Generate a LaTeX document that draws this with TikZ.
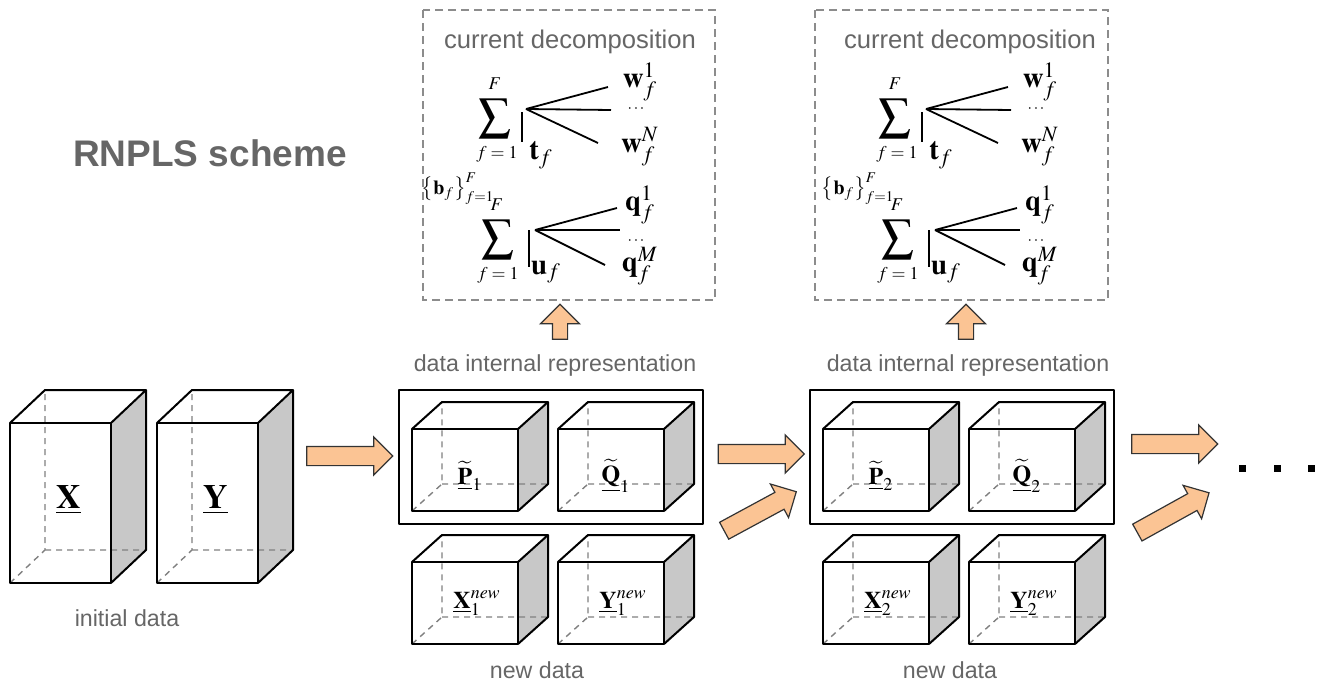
\documentclass[tikz,border=0pt]{standalone}
\usepackage{mathptmx}
\usepackage[no-math]{fontspec}
\usepackage{tikz}
\usetikzlibrary{shapes.arrows,positioning}

\newfontfamily\labelfont{Liberation Sans}
\definecolor{labelgray}{HTML}{666666}
\definecolor{sidegray}{HTML}{C8C8C8}
\definecolor{arrowfill}{HTML}{FBC494}

\tikzset{
  hidden/.style={draw=gray, line width=0.7pt, dash pattern=on 3pt off 2.5pt},
  edge/.style={line width=1pt, line join=round},
  caption/.style={text=labelgray, font=\labelfont\fontsize{11.6}{14}\selectfont},
  dashbox/.style={draw=gray!90, line width=0.7pt, dash pattern=on 4pt off 2.5pt},
  decomp/.style={inner sep=1pt, font=\Large},
  bigsum/.style={inner sep=0pt, font=\fontsize{16}{19}\selectfont},
  limit/.style={inner sep=0pt, font=\small},
  fan/.style={line width=0.9pt},
  fatarrow/.style={single arrow, draw=black!80, fill=arrowfill, line width=0.6pt,
    inner xsep=0pt, inner ysep=4.5pt, minimum height=43pt,
    single arrow head extend=4.75pt, single arrow head indent=0pt},
  uparrow/.style={fatarrow, rotate=90, inner ysep=3.5pt, minimum height=17.5pt,
    single arrow head extend=6pt}
}

% box: name, x, y, width, height, depth x, depth y
\newcommand{\tensorbox}[7]{%
  \begin{scope}[shift={(#2,#3)}]
    \fill[sidegray] (#4,0) -- (#4+#6,-#7) -- (#4+#6,#5-#7) -- (#4,#5) -- cycle;
    \draw[hidden] (0,#5) -- (#6,#5-#7) -- (#6,-#7) (#6,#5-#7) -- (#4+#6,#5-#7);
    \draw[edge] (0,0) rectangle (#4,#5);
    \draw[edge] (0,0) -- (#6,-#7) -- (#4+#6,-#7) -- (#4,0)
      (#4+#6,-#7) -- (#4+#6,#5-#7) -- (#4,#5);
    \coordinate (#1) at (0.5*#4,0.5*#5);
  \end{scope}}

% decomposition: suffix, x shift
\newcommand{\decomp}[2]{%
  \begin{scope}[shift={(#2,0)}]
    \node[caption, font=\labelfont\fontsize{12.8}{15}\selectfont] (title#1) at (570,42) {current decomposition};
    % first sum
    \node[bigsum] (sumt#1) at (495,119) {$\displaystyle\sum$};
    \node[limit] (sumtF#1) at (495,84) {$F$};
    \node[limit] (sumtf#1) at (497,154) {$f=1$};
    \coordinate (tfan#1) at (526,109);
    \draw[fan] (522,112) -- (522,142);
    \node[decomp] (t#1) at (541,155) {$\mathbf{t}_f$};
    \node[decomp] (wa#1) at (640,82) {$\mathbf{w}_f^1$};
    \node[inner sep=1pt] (wd#1) at (636,109) {\footnotesize$\cdots$};
    \node[decomp] (wn#1) at (640,147) {$\mathbf{w}_f^N$};
    \coordinate (wae#1) at (608,87);
    \coordinate (wde#1) at (611,110);
    \coordinate (wne#1) at (598,143);
    \draw[fan] (tfan#1) -- (wae#1);
    \draw[fan] (tfan#1) -- (wde#1);
    \draw[fan] (tfan#1) -- (wne#1);
    \node (b#1) at (458,189) {$\left\{\mathbf{b}_f\right\}_{f=1}^{F}$};
    % second sum
    \node[bigsum] (sumu#1) at (498,240) {$\displaystyle\sum$};
    \node[limit] (sumuF#1) at (497,205) {$F$};
    \node[limit] (sumuf#1) at (498,275) {$f=1$};
    \coordinate (ufan#1) at (535,230);
    \draw[fan] (529,230) -- (529,267);
    \node[decomp] (u#1) at (546,272) {$\mathbf{u}_f$};
    \node[decomp] (qa#1) at (640,205) {$\mathbf{q}_f^1$};
    \node[inner sep=1pt] (qd#1) at (636,241) {\footnotesize$\cdots$};
    \node[decomp] (qm#1) at (640,266) {$\mathbf{q}_f^M$};
    \coordinate (qae#1) at (617,208);
    \coordinate (qde#1) at (620,230);
    \coordinate (qme#1) at (605,265);
    \draw[fan] (ufan#1) -- (qae#1);
    \draw[fan] (ufan#1) -- (qde#1);
    \draw[fan] (ufan#1) -- (qme#1);
  \end{scope}}

\begin{document}
\begin{tikzpicture}[x=0.5pt,y=-0.5pt]
  \useasboundingbox (0,0) rectangle (1319,691);

  \node[text=labelgray, font=\labelfont\bfseries\fontsize{18.5}{22}\selectfont]
    (title) at (210,153) {RNPLS scheme};

  % initial data
  \tensorbox{bx}{10}{423}{101}{160}{35}{33}
  \tensorbox{by}{157}{423}{101}{160}{35}{33}
  \node[font=\fontsize{17}{20}\selectfont] (lx) at ([xshift=4pt,yshift=1.5pt]bx) {$\underline{\mathbf{X}}$};
  \node[font=\fontsize{17}{20}\selectfont] (ly) at ([xshift=4pt,yshift=1.5pt]by) {$\underline{\mathbf{Y}}$};
  \node[caption] (init) at (127,618) {initial data};

  % current decompositions
  \draw[dashbox] (423,10) rectangle (715,300);
  \draw[dashbox] (815,10) rectangle (1108,300);
  \decomp{1}{0}
  \decomp{2}{400}

  % steps
  \foreach \i/\sx in {1/0,2/411} {
    \begin{scope}[shift={(\sx,0)}]
      \draw[edge] (399,390) rectangle (703,524);
      \tensorbox{bp\i}{412}{429}{106}{82}{30}{27}
      \tensorbox{bq\i}{558}{429}{106}{82}{30}{27}
      \tensorbox{bxn\i}{412}{562}{106}{82}{30}{27}
      \tensorbox{byn\i}{558}{562}{106}{82}{30}{27}
      \node[font=\fontsize{12}{14}\selectfont] (lp\i) at ([xshift=2.5pt,yshift=-3pt]bp\i) {$\underline{\widetilde{\mathbf{P}}}_{\i}$};
      \node[font=\fontsize{12}{14}\selectfont] (lq\i) at ([xshift=2.5pt,yshift=-3pt]bq\i) {$\underline{\widetilde{\mathbf{Q}}}_{\i}$};
      \node[font=\fontsize{12}{14}\selectfont] (lxn\i) at ([xshift=6pt]bxn\i) {$\underline{\mathbf{X}}_{\i}^{new}$};
      \node[font=\fontsize{12}{14}\selectfont] (lyn\i) at ([xshift=6pt]byn\i) {$\underline{\mathbf{Y}}_{\i}^{new}$};
    \end{scope}
  }
  \node[caption] (rep1) at (555,365) {data internal representation};
  \node[caption] (rep2) at (968,365) {data internal representation};
  \node[caption] (new1) at (537,670) {new data};
  \node[caption] (new2) at (950,670) {new data};

  % arrows
  \node[fatarrow] (a0) at (345,456) {};
  \node[fatarrow] (a1) at (756.5,454) {};
  \node[fatarrow, rotate=28.4, minimum height=41pt] (a2) at (756,513.5) {};
  \node[fatarrow] (a3) at (1170,444) {};
  \node[fatarrow, rotate=29, minimum height=41pt] (a4) at (1169,515) {};
  \node[uparrow] (up1) at (560,325.5) {};
  \node[uparrow] (up2) at (966,325.5) {};

  % more steps
  \foreach \x in {1242,1277,1311}
    \fill (\x-3.5,464.5) rectangle +(7,7);
\end{tikzpicture}
\end{document}
